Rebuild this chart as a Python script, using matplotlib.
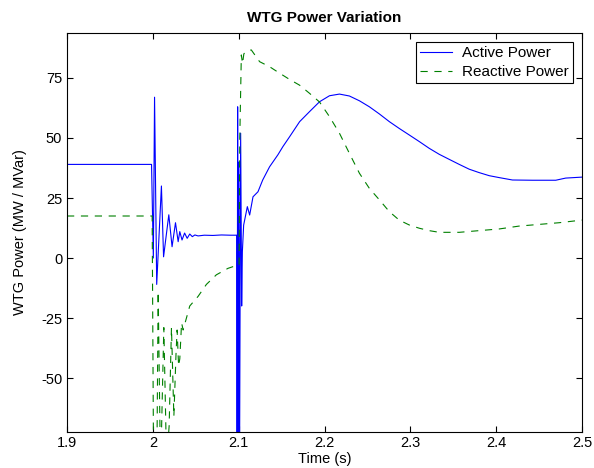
import matplotlib
matplotlib.use("Agg")
import matplotlib.pyplot as plt

plt.rcParams["font.family"] = ["Liberation Sans", "DejaVu Sans"]
plt.rcParams["axes.unicode_minus"] = False

# active power (MW)
active_t = [1.900, 1.9985, 2.0006, 2.0020, 2.0045, 2.0100, 2.0125, 2.0186, 2.0224, 2.0264,
            2.0295, 2.0314, 2.0340, 2.0370, 2.0400, 2.0430, 2.0460, 2.0490, 2.0527, 2.0600,
            2.0700, 2.0800, 2.0900, 2.0977, 2.0982, 2.0988, 2.0995, 2.1003, 2.1010, 2.1023,
            2.1035, 2.1043, 2.1058, 2.1101, 2.1128, 2.1167, 2.1225, 2.1280, 2.1360, 2.1457,
            2.1515, 2.1593, 2.1710, 2.1826, 2.1942, 2.2058, 2.2174, 2.2290, 2.2407, 2.2523,
            2.2640, 2.2756, 2.2870, 2.2988, 2.3105, 2.3220, 2.3337, 2.3453, 2.3570, 2.3686,
            2.3800, 2.3919, 2.4035, 2.4190, 2.4422, 2.4694, 2.4810, 2.5000]
active_p = [39, 39, 0, 67, -11, 30, 0.5, 18, 4.7, 14.7,
            6.8, 11, 7.5, 10.4, 8.2, 10, 8.9, 9.6, 9.2, 9.5,
            9.4, 9.6, 9.5, 9.5, -90, 63, -90, 40, -90, 52,
            -20, 2.6, 13.7, 21.4, 17.9, 25.5, 27.6, 32.5, 38, 43,
            46.4, 50.5, 56.8, 61, 65.1, 67.6, 68.3, 67.5, 65.5, 63,
            60, 56.8, 54, 51.25, 48.5, 45.7, 43.2, 41.1, 39, 37,
            35.6, 34.3, 33.5, 32.5, 32.4, 32.4, 33.3, 33.7]

# reactive power (MVar)
react_t = [1.900, 1.9992, 2.0010, 2.0045, 2.0062, 2.0090, 2.0128, 2.0160, 2.0190, 2.0217,
           2.0245, 2.0270, 2.0283, 2.0300, 2.0314, 2.0335, 2.0353, 2.0430, 2.0527, 2.0624,
           2.0740, 2.0876, 2.0992, 2.1005, 2.1013, 2.1031, 2.1045, 2.1060, 2.1080, 2.1147,
           2.1244, 2.1360, 2.1477, 2.1593, 2.1710, 2.1826, 2.1942, 2.2058, 2.2174, 2.2290,
           2.2407, 2.2523, 2.2640, 2.2756, 2.2870, 2.2988, 2.3105, 2.3220, 2.3337, 2.3570,
           2.3800, 2.4035, 2.4267, 2.4500, 2.4733, 2.5000]
react_q = [17.5, 17.5, -95, -95, -14, -90, -29, -85, -70, -29,
           -66, -40, -30, -45, -42, -27, -30, -20, -16, -11,
           -7, -4.3, -2.9, -3, 50, 84.6, 81, 85, 86, 86.7,
           81.8, 79.7, 77, 74.4, 72, 68.6, 65, 58.9, 52, 43.6,
           35.3, 29, 24.2, 19.3, 15.8, 13.75, 12.4, 11.4, 10.7, 10.7,
           11.4, 12.1, 13.3, 14, 14.7, 15.8]

xticks = [1.9, 2.0, 2.1, 2.2, 2.3, 2.4, 2.5]
xticklabels = ["1.9", "2", "2.1", "2.2", "2.3", "2.4", "2.5"]
yticks = [-50, -25, 0, 25, 50, 75]

fig = plt.figure(figsize=(5.94, 4.68), dpi=100)
ax = fig.add_axes([0.1128, 0.0769, 0.867, 0.8526])

ax.plot(active_t, active_p, color=(0, 0, 1), lw=0.8, label="Active Power")
ln, = ax.plot(react_t, react_q, color=(0, 0.5, 0), lw=0.8, label="Reactive Power")
ln.set_dashes([6.5, 6])

ax.set_xlim(1.9, 2.5)
ax.set_ylim(-72.5, 93.75)
ax.set_xticks(xticks)
ax.set_xticklabels(xticklabels)
ax.set_yticks(yticks)
ax.tick_params(direction="in", top=True, right=True, labelsize=10.5, length=4, width=0.8)
ax.tick_params(axis="x", pad=3)
for s in ax.spines.values():
    s.set_linewidth(0.8)

ax.set_xlabel("Time (s)", fontsize=10.5, labelpad=1)
ax.set_ylabel("WTG Power (MW / MVar)", fontsize=10.5, labelpad=10)
ax.set_title("WTG Power Variation", fontsize=11, fontweight="bold", pad=8)

leg = ax.legend(loc="upper right", fontsize=11, fancybox=False, framealpha=1,
                edgecolor="black", handlelength=2.1, handletextpad=0.65,
                borderaxespad=0.6, labelspacing=0.3, borderpad=0.28)
leg.get_frame().set_linewidth(0.8)

fig.savefig("out.png", dpi=100)
